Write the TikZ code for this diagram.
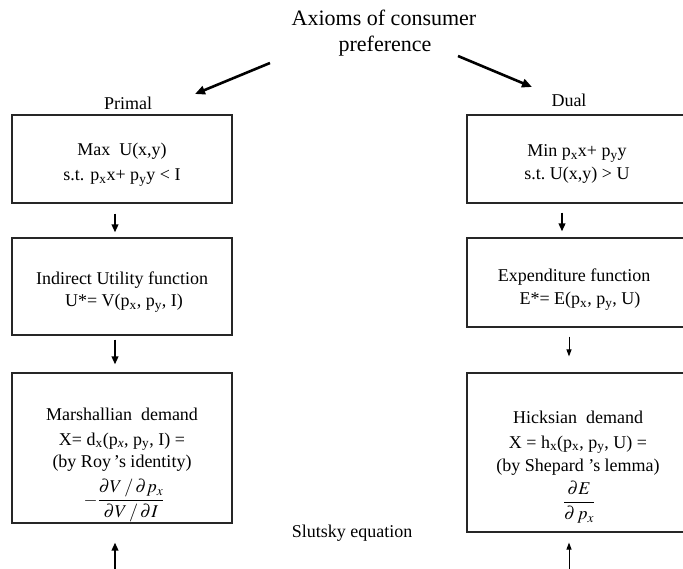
\documentclass[tikz,border=0pt]{standalone}
\usepackage{mathptmx}
\usepackage[no-math]{fontspec}
\setmainfont{Liberation Serif}
\usepackage{tikz}
\usetikzlibrary{arrows.meta}

\begin{document}
\begin{tikzpicture}[x=1pt, y=-1pt,
            every node/.style={inner sep=0pt, font=\fontsize{18}{21}\selectfont},
            panel/.style={draw=black!85, line width=1.1pt, minimum width=220pt},
            txt/.style={anchor=base},
            thickarr/.style={line width=2pt, -{Triangle[length=8pt,width=6.5pt]}},
            thinarr/.style={line width=1pt, -{Triangle[length=7pt,width=5pt]}},
            bigarr/.style={line width=2.6pt, -{Triangle[length=10pt,width=8.5pt]}}]
            \useasboundingbox (0,0) rectangle (683,569);

            \node[txt, font=\fontsize{22}{26}\selectfont] (ax1) at (384,26) {Axioms of consumer};
            \node[txt, font=\fontsize{22}{26}\selectfont] (ax2) at (385,52) {preference};
            \node[txt] (primal) at (128,110) {Primal};
            \node[txt] (dual) at (569,107) {Dual};
            \node[txt] (slutsky) at (352,537) {Slutsky equation};

            \node[panel, minimum height=88pt] (pbox1) at (122,159) {};
            \node[panel, minimum height=97pt] (pbox2) at (122,286.5) {};
            \node[panel, minimum height=150pt] (pbox3) at (122,448) {};
            \node[panel, minimum height=88pt] (dbox1) at (577,159) {};
            \node[panel, minimum height=89pt] (dbox2) at (577,282.5) {};
            \node[panel, minimum height=159pt] (dbox3) at (577,452.5) {};

            \node[txt] (p1a) at (122,156) {Max\ \ U(x,y)};
            \node[txt] (p1b) at (122,181) {s.t. p\textsubscript{x}x+ p\textsubscript{y}y < I};
            \node[txt] (p2a) at (122,285) {Indirect Utility function};
            \node[txt] (p2b) at (124,307) {U*= V(p\textsubscript{x}, p\textsubscript{y}, I)};
            \node[txt] (p3a) at (122,420) {Marshallian\ \ demand};
            \node[txt] (p3b) at (122,445) {X= d\textsubscript{x}(p\textsubscript{\textit{x}}, p\textsubscript{y}, I) =};
            \node[txt] (p3c) at (122,467) {(by Roy\,’s identity)};
            \node[txt] (p3d) at (124,505) {$-\displaystyle\frac{\partial V\,/\,\partial p_x}{\partial V\,/\,\partial I}$};

            \node[txt] (d1a) at (577,157) {Min p\textsubscript{x}x+ p\textsubscript{y}y};
            \node[txt] (d1b) at (577,180) {s.t.\ U(x,y) > U};
            \node[txt] (d2a) at (574,282) {Expenditure function};
            \node[txt] (d2b) at (580,305) {E*= E(p\textsubscript{x}, p\textsubscript{y}, U)};
            \node[txt] (d3a) at (578,423) {Hicksian\ \ demand};
            \node[txt] (d3b) at (578,448) {X = h\textsubscript{x}(p\textsubscript{x}, p\textsubscript{y}, U) =};
            \node[txt] (d3c) at (578,471) {(by Shepard ’s lemma)};
            \node[txt] (d3d) at (579,507) {$\displaystyle\frac{\partial E}{\partial\,p_x}$};

            \coordinate (axl) at (270,63);
            \coordinate (tol) at (195,94);
            \coordinate (axr) at (458,56);
            \coordinate (tor) at (532,87);
            \coordinate (pup) at (115,572);
            \coordinate (dup) at (569,572);

            \draw[bigarr] (axl) -- (tol);
            \draw[bigarr] (axr) -- (tor);
            \draw[thickarr, shorten <=10pt, shorten >=5pt] ([xshift=-7pt]pbox1.south) -- ([xshift=-7pt]pbox2.north);
            \draw[thickarr, shorten <=4pt, shorten >=8pt] ([xshift=-7pt]pbox2.south) -- ([xshift=-7pt]pbox3.north);
            \draw[thickarr, shorten <=9pt, shorten >=6pt] ([xshift=-15pt]dbox1.south) -- ([xshift=-15pt]dbox2.north);
            \draw[thinarr, shorten <=9pt, shorten >=16pt] ([xshift=-8pt]dbox2.south) -- ([xshift=-8pt]dbox3.north);
            \draw[thickarr, shorten >=19pt] (pup) -- ([xshift=-7pt]pbox3.south);
            \draw[thinarr, shorten >=10pt] (dup) -- ([xshift=-8pt]dbox3.south);
        \end{tikzpicture}
\end{document}
